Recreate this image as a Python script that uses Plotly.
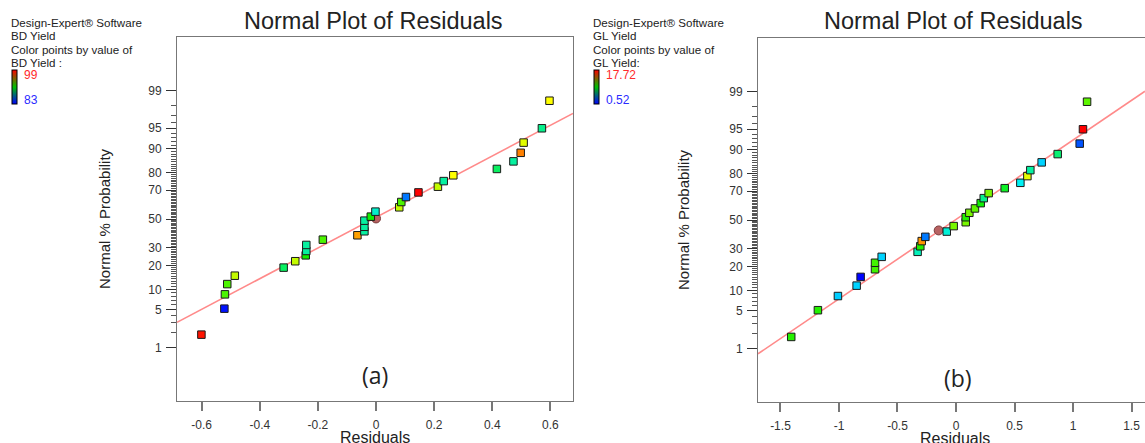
from statistics import NormalDist
import plotly.graph_objects as go

# ---------------- data ----------------
# Chart (a): BD Yield
a_resid = [-0.601, -0.522, -0.520, -0.512, -0.486, -0.318, -0.278, -0.242, -0.240, -0.240,
           -0.183, -0.064, -0.040, -0.040, -0.040, -0.018, -0.002, 0.080, 0.087, 0.103,
           0.146, 0.213, 0.233, 0.266, 0.416, 0.473, 0.498, 0.508, 0.571, 0.597]
a_prob = [1.8, 5.2, 8.6, 11.9, 15.2, 18.9, 22.2, 25.5, 28.1, 31.9,
          35.4, 38.4, 41.2, 44.4, 48.8, 51.7, 55.3, 58.4, 62.1, 65.5,
          68.5, 72.1, 75.4, 78.6, 81.8, 85.2, 88.5, 91.7, 95.0, 98.4]
a_yield = [98.7, 83.3, 92.0, 92.0, 94.0, 89.5, 94.0, 91.0, 88.5, 88.5,
           92.0, 96.5, 88.5, 88.5, 88.5, 91.0, 87.8, 94.0, 92.0, 85.0,
           99.0, 94.0, 88.5, 95.0, 89.5, 88.5, 97.0, 94.5, 88.8, 95.0]
a_circle_resid = [0.0]
a_circle_prob = [50.4]
a_line = {"intercept": 0.03, "slope": 2.78}   # z = intercept + slope * residual
a_cmin, a_cmax = 83, 99

# Chart (b): GL Yield
b_resid = [-1.408, -1.180, -1.009, -0.849, -0.815, -0.692, -0.692, -0.635, -0.328, -0.305,
           -0.293, -0.262, -0.079, -0.020, 0.083, 0.083, 0.114, 0.162, 0.211, 0.237,
           0.279, 0.416, 0.550, 0.610, 0.635, 0.732, 0.869, 1.057, 1.085, 1.120]
b_prob = [1.7, 5.1, 8.4, 11.7, 15.1, 18.6, 21.9, 25.2, 28.2, 31.7,
          35.1, 38.0, 41.7, 45.6, 48.4, 52.0, 55.2, 58.3, 62.0, 65.4,
          68.7, 71.8, 75.0, 78.7, 81.7, 85.2, 88.4, 91.7, 95.0, 98.4]
b_yield = [9.5, 9.5, 4.2, 4.3, 0.6, 10.0, 10.0, 4.3, 6.0, 9.5,
           15.2, 2.7, 5.5, 11.0, 11.0, 9.5, 11.0, 10.5, 9.0, 6.8,
           11.0, 8.5, 5.0, 13.0, 6.4, 4.3, 7.2, 2.0, 17.7, 10.5]
b_circle_resid = [-0.148]
b_circle_prob = [42.5]
b_line = {"intercept": 0.01, "slope": 1.44}
b_cmin, b_cmax = 0.52, 17.72

prob_major = [1, 5, 10, 20, 30, 50, 70, 80, 90, 95, 99]
prob_minor = [p for p in range(1, 100) if p not in prob_major]
a_xticks = [-0.6, -0.4, -0.2, 0, 0.2, 0.4, 0.6]
a_xticktext = ["-0.6", "-0.4", "-0.2", "0", "0.2", "0.4", "0.6"]
b_xticks = [-1.5, -1.0, -0.5, 0, 0.5, 1.0, 1.5]
b_xticktext = ["-1.5", "-1", "-0.5", "0", "0.5", "1", "1.5"]

# ---------------- helpers ----------------
nd = NormalDist()
def z(p):
    return nd.inv_cdf(p / 100.0)

W, H = 1145, 443
def px(x):
    return x / W
def py(y):
    return 1 - y / H

FONT = "Liberation Sans, Arial, sans-serif"
marker_scale = [[0, "#0000ff"], [0.25, "#00f0ff"], [0.5, "#10f000"], [0.75, "#ffff00"], [1, "#ff0000"]]
legend_scale = [[0, "#0000ff"], [0.5, "#00c000"], [1, "#ff0000"]]

fig = go.Figure()

def add_panel(xa, ya, resid, prob, yld, cres, cprob, line, cmin, cmax, xrange_, cb_x):
    x0, x1 = xrange_
    fig.add_trace(go.Scatter(
        x=[x0, x1], y=[line["intercept"] + line["slope"] * x0, line["intercept"] + line["slope"] * x1],
        mode="lines", line=dict(color="#ff8a8a", width=1.6), xaxis=xa, yaxis=ya,
        showlegend=False, hoverinfo="skip"))
    fig.add_trace(go.Scatter(
        x=cres, y=[z(p) for p in cprob], mode="markers",
        marker=dict(symbol="circle", size=9, color="#b86262", line=dict(color="#7a3c3c", width=1)),
        xaxis=xa, yaxis=ya, showlegend=False))
    fig.add_trace(go.Scatter(
        x=resid, y=[z(p) for p in prob], mode="markers",
        marker=dict(symbol="square", size=7.5, color=yld, cmin=cmin, cmax=cmax,
                    colorscale=marker_scale, line=dict(color="#1a1a1a", width=1)),
        xaxis=xa, yaxis=ya, showlegend=False))
    # legend colour bar
    fig.add_trace(go.Scatter(
        x=[None], y=[None], mode="markers", xaxis=xa, yaxis=ya, showlegend=False,
        marker=dict(color=[cmin], cmin=cmin, cmax=cmax, colorscale=legend_scale, showscale=True,
                    colorbar=dict(x=px(cb_x), xanchor="left", y=py(70), yanchor="top",
                                  thickness=5, lenmode="pixels", len=34,
                                  outlinewidth=1, outlinecolor="#000000", xpad=0, ypad=0,
                                  borderwidth=0, showticklabels=False, ticks=""))))

add_panel("x", "y", a_resid, a_prob, a_yield, a_circle_resid, a_circle_prob, a_line,
          a_cmin, a_cmax, (-0.685, 0.678), 12)
add_panel("x2", "y2", b_resid, b_prob, b_yield, b_circle_resid, b_circle_prob, b_line,
          b_cmin, b_cmax, (-1.692, 1.615), 594)

def yaxis_cfg(domain):
    return dict(domain=domain, range=[-3.3, 3.3], showgrid=False, zeroline=False,
                showline=True, linecolor="#777777", linewidth=1,
                tickmode="array", tickvals=[z(p) for p in prob_major],
                ticktext=[str(p) for p in prob_major],
                ticks="outside", ticklen=10, tickwidth=1, tickcolor="#333333",
                ticklabelstandoff=2,
                tickfont=dict(family=FONT, size=12, color="#333333"),
                minor=dict(tickmode="array", tickvals=[z(p) for p in prob_minor],
                           ticks="outside", ticklen=5, tickwidth=1, tickcolor="#555555",
                           showgrid=False))

def xaxis_cfg(domain, rng, tv, tt):
    return dict(domain=domain, range=list(rng), showgrid=False, zeroline=False,
                showline=True, linecolor="#777777", linewidth=1, mirror=True,
                tickmode="array", tickvals=tv, ticktext=tt,
                ticks="outside", ticklen=9, tickwidth=1.5, tickcolor="#777777",
                ticklabelstandoff=4,
                tickfont=dict(family=FONT, size=12, color="#333333"))

fig.update_layout(
    width=W, height=H, autosize=False,
    margin=dict(l=0, r=0, t=0, b=0),
    paper_bgcolor="white", plot_bgcolor="white",
    font=dict(family=FONT, color="#222222"),
    xaxis=xaxis_cfg([px(177), px(573)], (-0.685, 0.678), a_xticks, a_xticktext),
    yaxis=yaxis_cfg([py(401), py(37)]),
    xaxis2=xaxis_cfg([px(758), 1.0], (-1.692, 1.615), b_xticks, b_xticktext),
    yaxis2=yaxis_cfg([py(402), py(38)]),
)
fig.layout.yaxis.mirror = True
fig.layout.yaxis.anchor = "x"
fig.layout.xaxis.anchor = "y"
fig.layout.yaxis2.anchor = "x2"
fig.layout.xaxis2.anchor = "y2"

ann = []
def text(x, y, s, size=11, color="#222222", xanchor="left", family=FONT, angle=0):
    ann.append(dict(x=px(x), y=py(y), xref="paper", yref="paper", text=s, showarrow=False,
                    xanchor=xanchor, yanchor="middle", textangle=angle,
                    font=dict(family=family, size=size, color=color)))

for x0, name, hi, lo, sep in [(9, "BD Yield", "99", "83", " :"), (591, "GL Yield", "17.72", "0.52", ":")]:
    text(x0, 22, "Design-Expert® Software", size=11.6)
    text(x0, 35, name, size=11.6)
    text(x0, 49, "Color points by value of", size=11.6)
    text(x0, 62, name + sep, size=11.6)
    text(x0 + 13, 75, hi, size=12, color="#ff2a2a")
    text(x0 + 13, 100, lo, size=12, color="#2a2aff")

text(373, 21, "Normal Plot of Residuals", size=23.5, xanchor="center")
text(953, 21, "Normal Plot of Residuals", size=23.5, xanchor="center")
text(104, 219, "Normal % Probability", size=15, xanchor="center", angle=-90)
text(684, 220, "Normal % Probability", size=15, xanchor="center", angle=-90)
text(375, 437, "Residuals", size=16, xanchor="center")
text(955, 438, "Residuals", size=16, xanchor="center")
text(375, 375, "(a)", size=23, xanchor="center", family="Open Sans, Noto Sans, sans-serif")
text(958, 378, "(b)", size=23, xanchor="center", family="Open Sans, Noto Sans, sans-serif")
fig.update_layout(annotations=ann)

fig.write_html("out.html", config={"displayModeBar": False},
               post_script="document.body.style.margin='0';document.body.style.overflow='hidden';")
